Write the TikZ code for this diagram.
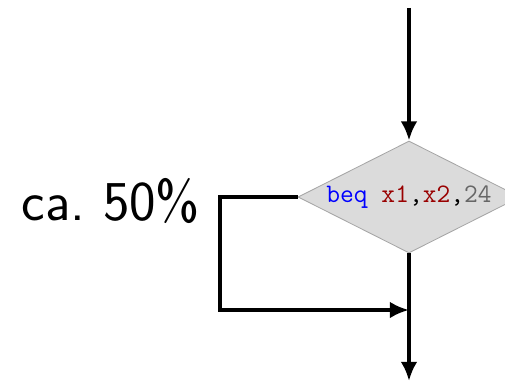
\documentclass[tikz,border=0pt]{standalone}
\usepackage{xcolor}
\usetikzlibrary{shapes.geometric,arrows.meta}
\definecolor{kwblue}{RGB}{0,0,255}
\definecolor{regred}{RGB}{153,0,0}
\definecolor{immgray}{RGB}{102,102,102}
\begin{document}
\begin{tikzpicture}[line width=2.8pt,
  flow/.style={-{Latex[length=0.48cm,width=0.42cm]}},
  branch/.style={diamond, draw=gray!70, line width=0.6pt, fill=gray!28, aspect=1.98,
    minimum width=5.55cm, minimum height=2.8cm, inner sep=0pt,
    font=\fontsize{19}{22}\selectfont\ttfamily}]
  \useasboundingbox (0,0) rectangle (12.625,9.575);
  \coordinate (in) at (10.225,9.375);
  \node[branch] (beq) at (10.225,4.65)
    {\textcolor{kwblue}{beq} \textcolor{regred}{x1},\textcolor{regred}{x2},\textcolor{immgray}{24}};
  \coordinate (out) at (10.225,0.05);
  \coordinate (merge) at (10.225,1.825);
  \coordinate (loop) at (5.5,1.825);
  \node[anchor=base east, inner sep=0pt, font=\fontsize{40}{48}\selectfont\sffamily]
    (prob) at (5.05,4.075) {ca.\ 50\%};
  \draw[flow] (in) -- (beq.north);
  \draw[flow] (beq.south) -- (out);
  \draw[flow] (beq.west) -| (loop) -- (merge);
\end{tikzpicture}
\end{document}
